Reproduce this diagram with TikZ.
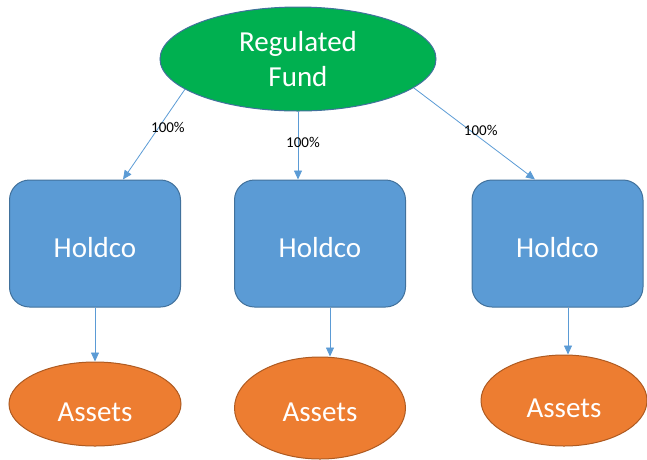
\documentclass[tikz,border=0pt]{standalone}
\usepackage{fontspec}
\setmainfont{Carlito}
\usetikzlibrary{shapes.geometric,arrows.meta}
\definecolor{fundgreen}{HTML}{00B050}
\definecolor{boxblue}{HTML}{5B9BD5}
\definecolor{edgeblue}{HTML}{41719C}
\definecolor{assetorange}{HTML}{ED7D31}
\definecolor{assetedge}{HTML}{AE5A21}
\tikzset{
  fundnode/.style={ellipse, draw=edgeblue, line width=1pt, fill=fundgreen, text=white,
    minimum width=276pt, minimum height=104pt, inner sep=0pt, align=center,
    font=\fontsize{29}{35}\selectfont},
  holdnode/.style={rectangle, rounded corners=20pt, draw=edgeblue, line width=1pt, fill=boxblue,
    text=white, minimum width=171pt, minimum height=127pt, inner sep=0pt,
    text height=27pt, text depth=0pt,
    font=\fontsize{29}{35}\selectfont},
  assetnode/.style={ellipse, draw=assetedge, line width=1pt, fill=assetorange, text=white,
    inner sep=0pt, text depth=0pt, font=\fontsize{29}{35}\selectfont},
  link/.style={draw=boxblue, line width=0.8pt, -{Triangle[length=9pt,width=8pt]}},
  pct/.style={font=\fontsize{15}{18}\selectfont, text=black, inner sep=0pt}
}
\begin{document}
\begin{tikzpicture}[x=1pt,y=-1pt]
\useasboundingbox (0,0) rectangle (647,459);
\begin{scope}
\clip (0,0) rectangle (647,459);
\node[fundnode] (fund) at (298,59) {Regulated\\Fund};
\node[holdnode] (h1) at (95,243.5) {Holdco};
\node[holdnode] (h2) at (320,243.5) {Holdco};
\node[holdnode] (h3) at (557.5,243.5) {Holdco};
\node[assetnode, minimum width=172pt, minimum height=84pt, text height=34pt] (a1) at (95,404) {Assets};
\node[assetnode, minimum width=171pt, minimum height=102pt, text height=27pt] (a2) at (320,408) {Assets};
\node[assetnode, minimum width=166pt, minimum height=91pt, text height=33pt] (a3) at (564,400.5) {Assets};

\draw[link] (fund.195) -- node[pct, pos=0.42, xshift=9pt] {100\%} ([xshift=28pt]h1.north);
\draw[link] (fund.south) -- node[pct, pos=0.45, xshift=5pt] {100\%} ([xshift=-22pt]h2.north);
\draw[link] (fund.346) -- node[pct, pos=0.47, xshift=10pt] {100\%} ([xshift=-22.5pt]h3.north);

\draw[link] (h1.south) -- (a1.north);
\draw[link] ([xshift=10pt]h2.south) -- ([xshift=10pt]h2.south |- a2.north);
\draw[link] ([xshift=10.5pt]h3.south) -- ([xshift=10.5pt]h3.south |- a3.north);
\end{scope}
\end{tikzpicture}
\end{document}
